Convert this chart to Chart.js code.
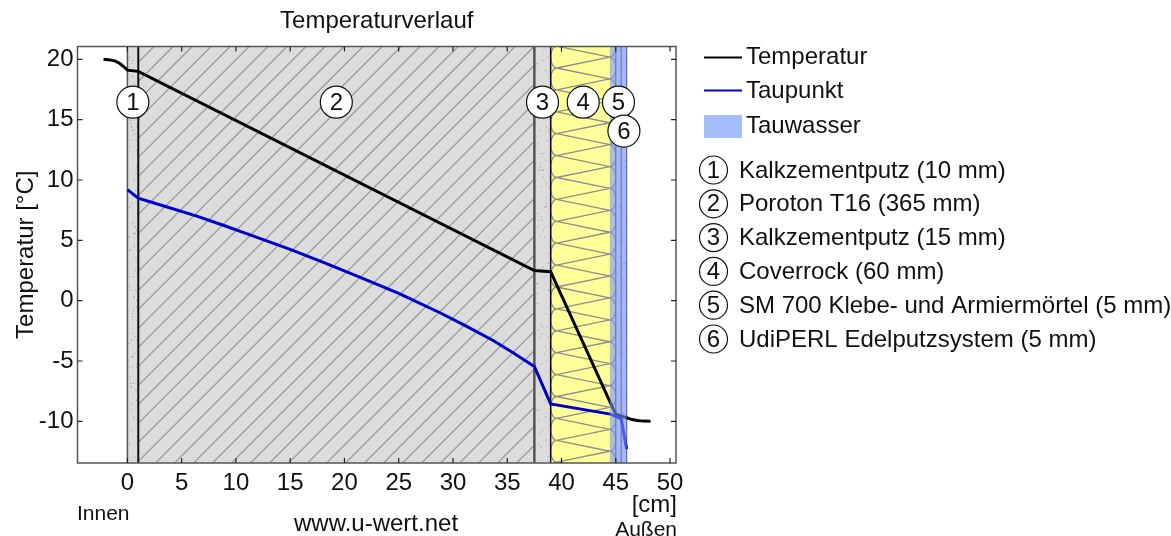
<!DOCTYPE html>
<html>
<head>
<meta charset="utf-8">
<script src="https://cdn.jsdelivr.net/npm/chart.js"></script>
<style>
  html, body { margin: 0; background: #fff; }
  canvas { display: block; }
</style>
</head>
<body>
<canvas id="chart" width="1171" height="536"></canvas>
<script>
  /* ===================== Data ===================== */

  const xTicks = [0, 5, 10, 15, 20, 25, 30, 35, 40, 45, 50];
  const yTicks = [-10, -5, 0, 5, 10, 15, 20];

  const temperaturX = [-2.2, -1.6, -1.1, -0.7, -0.35, 0, 1, 37.5, 39, 44.5, 45, 46, 46.5, 47, 47.6, 48.2];
  const temperaturY = [20, 19.95, 19.85, 19.65, 19.4, 19.1, 19, 2.5, 2.4, -8.45, -9.4, -9.7, -9.85, -9.93, -9.98, -10];

  const taupunktX = [0, 1, 3.5, 6.4, 8.5, 11.3, 15, 18, 21.4, 25, 28.8, 31, 33.7, 35.5, 37.5, 39, 44.5, 45.5, 46];
  const taupunktY = [9.2, 8.5, 7.8, 7, 6.35, 5.45, 4.25, 3.2, 1.95, 0.6, -1, -2, -3.3, -4.3, -5.45, -8.55, -9.4, -9.8, -12.3];

  const layerEdges = [0, 1, 37.5, 39, 45, 45.5, 46];
  const layerNames = [
    'Kalkzementputz (10 mm)',
    'Poroton T16 (365 mm)',
    'Kalkzementputz (15 mm)',
    'Coverrock (60 mm)',
    'SM 700 Klebe- und Armiermörtel (5 mm)',
    'UdiPERL Edelputzsystem (5 mm)'
  ];
  const badgeX = [0.5, 19.25, 38.25, 42, 45.25, 45.75];
  const badgeY = [16.45, 16.45, 16.45, 16.45, 16.45, 14.05];
  const tauwasserRange = [44.45, 46];

  /* ===================== Styles ===================== */

  const FONT = '"Liberation Sans", Arial, sans-serif';
  const TEXT = '#111';
  const FRAME = '#555';
  const HATCH = '#999';
  const GREY = '#dcdcdc';

  /* ===================== Layer drawing ===================== */

  function stipple(ctx, left, right, top, bottom, seed) {
    // sprinkled mortar dots, fixed sequence so the picture stays stable
    let s = seed;
    ctx.fillStyle = '#9a9a9a';
    for (let i = 0; i < 90; i++) {
      s = (s * 1103515245 + 12345) % 2147483648;
      const px = left + 1 + (s % 1000) / 1000 * (right - left - 2);
      s = (s * 1103515245 + 12345) % 2147483648;
      const py = top + (s % 1000) / 1000 * (bottom - top);
      ctx.fillRect(px, py, 1, 1);
    }
  }

  function hatch(ctx, left, right, top, bottom) {
    ctx.save();
    ctx.beginPath();
    ctx.rect(left, top, right - left, bottom - top);
    ctx.clip();
    ctx.strokeStyle = HATCH;
    ctx.lineWidth = 1.2;
    const step = 19;
    for (let c = 10.6 + step * 8; c < right + bottom + step; c += step) {
      ctx.beginPath();
      ctx.moveTo(c - top, top);
      ctx.lineTo(c - bottom, bottom);
      ctx.stroke();
    }
    ctx.restore();
  }

  function wool(ctx, left, right, top, bottom) {
    ctx.save();
    ctx.beginPath();
    ctx.rect(left, top, right - left, bottom - top);
    ctx.clip();
    ctx.strokeStyle = '#8e8e8e';
    ctx.lineWidth = 1.3;
    const period = 21.9;
    const bulge = 6;
    const xl = left + bulge;
    const xr = right - bulge;
    for (let k = -2; k < 20; k++) {
      const y = 68 + k * period;
      ctx.beginPath();
      ctx.ellipse(xl, y + period / 2, bulge, period / 2, 0, Math.PI / 2, Math.PI * 1.5);
      ctx.stroke();
      ctx.beginPath();
      ctx.ellipse(xr, y + period, bulge, period / 2, 0, -Math.PI / 2, Math.PI / 2);
      ctx.stroke();
      ctx.beginPath();
      ctx.moveTo(xl, y);
      ctx.lineTo(xr, y + period / 2);
      ctx.moveTo(xl, y);
      ctx.lineTo(xr, y - period / 2);
      ctx.stroke();
    }
    ctx.restore();
  }

  const layersPlugin = {
    id: 'layers',
    beforeDatasetsDraw(chart) {
      const { ctx, chartArea, scales } = chart;
      const { top, bottom } = chartArea;
      const px = layerEdges.map(v => scales.x.getPixelForValue(v));

      ctx.save();
      ctx.fillStyle = GREY;
      ctx.fillRect(px[0], top, px[3] - px[0], bottom - top);
      ctx.fillStyle = '#ffff99';
      ctx.fillRect(px[3], top, px[4] - px[3], bottom - top);
      ctx.fillStyle = '#eaeaf4';
      ctx.fillRect(px[4], top, px[6] - px[4], bottom - top);

      stipple(ctx, px[0], px[1], top, bottom, 17);
      stipple(ctx, px[2], px[3], top, bottom, 91);
      stipple(ctx, px[4], px[6], top, bottom, 5);
      hatch(ctx, px[1], px[2], top, bottom);
      wool(ctx, px[3], px[4], top, bottom);

      const edgeStyles = [
        [FRAME, 1.5], ['#111', 2], [FRAME, 2.5], ['#111', 1.5], [FRAME, 1.2], [FRAME, 1.2], [FRAME, 1.2]
      ];
      px.forEach((x, i) => {
        ctx.strokeStyle = edgeStyles[i][0];
        ctx.lineWidth = edgeStyles[i][1];
        ctx.beginPath();
        ctx.moveTo(x, top);
        ctx.lineTo(x, bottom);
        ctx.stroke();
      });
      ctx.restore();
    },
    afterDatasetsDraw(chart) {
      const { ctx, chartArea, scales } = chart;
      const { top, bottom, left, right } = chartArea;
      const x = scales.x;
      const y = scales.y;

      ctx.save();

      // Tauwasser lies over the curves
      const wetLeft = x.getPixelForValue(tauwasserRange[0]);
      const wetRight = x.getPixelForValue(tauwasserRange[1]);
      ctx.fillStyle = 'rgba(120,150,255,0.6)';
      ctx.fillRect(wetLeft, top, wetRight - wetLeft, bottom - top);

      // frame and inward ticks
      ctx.strokeStyle = FRAME;
      ctx.lineWidth = 1.5;
      ctx.strokeRect(left, top, right - left, bottom - top);
      ctx.strokeStyle = '#222';
      ctx.lineWidth = 1.2;
      ctx.beginPath();
      xTicks.forEach(v => {
        const p = x.getPixelForValue(v);
        ctx.moveTo(p, bottom);
        ctx.lineTo(p, bottom - 5);
        ctx.moveTo(p, top);
        ctx.lineTo(p, top + 5);
      });
      yTicks.forEach(v => {
        const p = y.getPixelForValue(v);
        ctx.moveTo(left, p);
        ctx.lineTo(left + 5, p);
        ctx.moveTo(right, p);
        ctx.lineTo(right - 5, p);
      });
      ctx.stroke();

      // numbered badges in the layers
      ctx.textAlign = 'center';
      ctx.textBaseline = 'middle';
      badgeX.forEach((v, i) => {
        const bx = x.getPixelForValue(v);
        const by = y.getPixelForValue(badgeY[i]);
        ctx.beginPath();
        ctx.arc(bx, by, 16, 0, Math.PI * 2);
        ctx.fillStyle = '#fff';
        ctx.fill();
        ctx.strokeStyle = '#111';
        ctx.lineWidth = 1.2;
        ctx.stroke();
        ctx.fillStyle = TEXT;
        ctx.font = `24px ${FONT}`;
        ctx.fillText(String(i + 1), bx, by + 1);
      });

      ctx.restore();
    },
    afterDraw(chart) {
      const { ctx } = chart;
      ctx.save();
      ctx.textBaseline = 'middle';
      ctx.textAlign = 'left';

      // legend for the curves
      ctx.strokeStyle = '#000';
      ctx.lineWidth = 2;
      ctx.beginPath();
      ctx.moveTo(704, 57.5);
      ctx.lineTo(742, 57.5);
      ctx.stroke();
      ctx.strokeStyle = '#0000cc';
      ctx.beginPath();
      ctx.moveTo(704, 90.5);
      ctx.lineTo(742, 90.5);
      ctx.stroke();
      ctx.fillStyle = '#a6bdfb';
      ctx.fillRect(704, 115, 38, 23);

      ctx.fillStyle = TEXT;
      ctx.font = `24px ${FONT}`;
      ctx.fillText('Temperatur', 746, 57);
      ctx.fillText('Taupunkt', 746, 91);
      ctx.fillText('Tauwasser', 746, 126);

      // legend for the layers
      layerNames.forEach((name, i) => {
        const rowY = 170 + i * 33.8;
        ctx.beginPath();
        ctx.arc(713.5, rowY, 14, 0, Math.PI * 2);
        ctx.strokeStyle = '#111';
        ctx.lineWidth = 1.2;
        ctx.stroke();
        ctx.textAlign = 'center';
        ctx.fillText(String(i + 1), 713.5, rowY + 1);
        ctx.textAlign = 'left';
        ctx.fillText(name, 739, rowY + 1);
      });

      // axis notes
      ctx.textAlign = 'right';
      ctx.fillText('[cm]', 677, 505);
      ctx.font = `21px ${FONT}`;
      ctx.fillText('Außen', 677, 530);
      ctx.textAlign = 'left';
      ctx.fillText('Innen', 77, 514);
      ctx.font = `24px ${FONT}`;
      ctx.fillText('www.u-wert.net', 294, 524);
      ctx.restore();
    }
  };

  /* ===================== Render chart ===================== */

  new Chart(document.getElementById('chart'), {
    type: 'line',
    plugins: [layersPlugin],
    data: {
      datasets: [
        {
          label: 'Temperatur',
          data: temperaturX.map((x, i) => ({ x, y: temperaturY[i] })),
          borderColor: '#000',
          borderWidth: 3,
          pointRadius: 0,
          tension: 0
        },
        {
          label: 'Taupunkt',
          data: taupunktX.map((x, i) => ({ x, y: taupunktY[i] })),
          borderColor: '#0000cc',
          borderWidth: 3,
          pointRadius: 0,
          tension: 0
        }
      ]
    },
    options: {
      responsive: false,
      animation: false,
      layout: { padding: { left: 0, right: 495, top: 0, bottom: 0 } },
      plugins: {
        legend: { display: false },
        tooltip: { enabled: false },
        title: {
          display: true,
          text: 'Temperaturverlauf',
          color: TEXT,
          fullSize: false,
          font: { family: FONT, size: 24, weight: 'normal', lineHeight: 1.2 },
          padding: { top: 7, bottom: 10.7 }
        }
      },
      scales: {
        x: {
          type: 'linear',
          min: -4.6,
          max: 50.55,
          afterBuildTicks(scale) { scale.ticks = xTicks.map(value => ({ value })); },
          afterFit(scale) { scale.height = 73; },
          grid: { display: false, drawTicks: false },
          border: { display: false },
          ticks: {
            color: TEXT,
            padding: 6,
            maxRotation: 0,
            autoSkip: false,
            font: { family: FONT, size: 24 }
          }
        },
        y: {
          min: -13.45,
          max: 21.06,
          afterBuildTicks(scale) { scale.ticks = yTicks.map(value => ({ value })); },
          afterFit(scale) { scale.width = 77.5; },
          grid: { display: false, drawTicks: false },
          border: { display: false },
          title: {
            display: true,
            text: 'Temperatur [°C]',
            color: TEXT,
            font: { family: FONT, size: 24 },
            padding: { top: 12, bottom: 0 }
          },
          ticks: {
            color: TEXT,
            padding: 4,
            autoSkip: false,
            font: { family: FONT, size: 24 }
          }
        }
      }
    }
  });
</script>
</body>
</html>
